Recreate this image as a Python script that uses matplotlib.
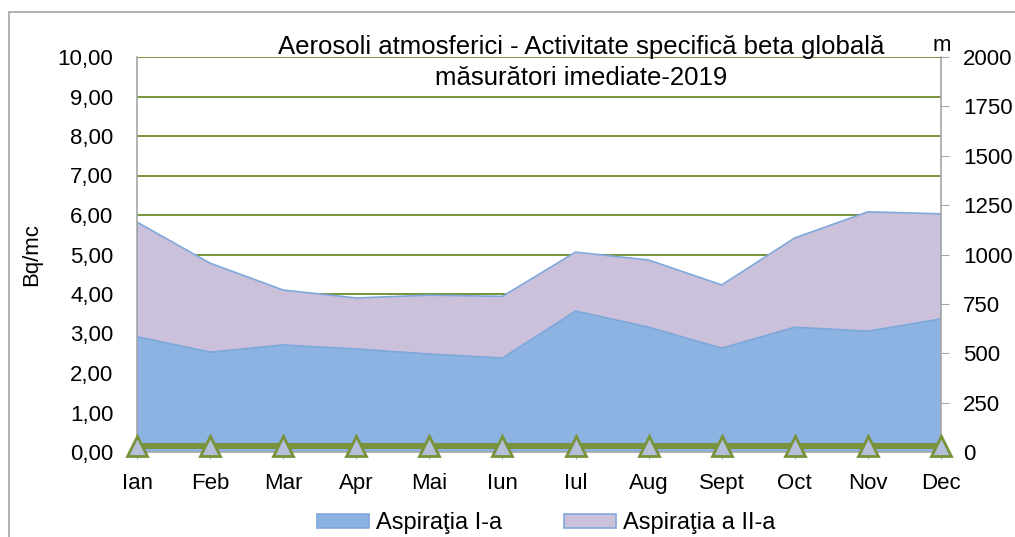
import matplotlib.pyplot as plt
from matplotlib.patches import Rectangle

plt.rcParams['font.family'] = ['Liberation Sans', 'DejaVu Sans']

months = ['Ian', 'Feb', 'Mar', 'Apr', 'Mai', 'Iun', 'Iul', 'Aug', 'Sept', 'Oct', 'Nov', 'Dec']
# Bq/mc, stacked areas
aspiratia_1 = [2.92, 2.53, 2.71, 2.61, 2.48, 2.38, 3.57, 3.16, 2.63, 3.16, 3.06, 3.37]
aspiratia_2 = [2.90, 2.25, 1.39, 1.29, 1.49, 1.56, 1.49, 1.70, 1.60, 2.26, 3.02, 2.66]
# secondary axis (m)
altitude = [30, 30, 30, 30, 30, 30, 30, 30, 30, 30, 30, 30]

left_ticks = [i for i in range(11)]
right_ticks = [0, 250, 500, 750, 1000, 1250, 1500, 1750, 2000]

grid_green = '#77933C'
axis_grey = '#A6A6A6'

fig = plt.figure(figsize=(10.15, 5.37), dpi=100)
ax = fig.add_axes([137 / 1015, 85 / 537, 804 / 1015, 395 / 537])

x = list(range(len(months)))
ax.stackplot(x, aspiratia_1, aspiratia_2,
             colors=['#8DB3E2', '#CCC1DA'],
             edgecolor=['#7FA8DC', '#9DBBE0'], linewidth=1.2,
             labels=['Aspiraţia I-a', 'Aspiraţia a II-a'])

ax.set_xlim(0, 11)
ax.set_ylim(0, 10)
ax.set_xticks(x)
ax.set_xticklabels(months, fontsize=16)
ax.set_yticks(left_ticks)
ax.set_yticklabels([f'{v:.2f}'.replace('.', ',') for v in left_ticks], fontsize=16)
ax.yaxis.grid(True, color=grid_green, linewidth=1.4)
ax.set_axisbelow(True)
ax.tick_params(axis='y', length=0, pad=17)
ax.tick_params(axis='x', length=5, color=axis_grey, pad=10)
ax.spines['top'].set_visible(False)
ax.spines['right'].set_visible(False)
for s in ['left', 'bottom']:
    ax.spines[s].set_color(axis_grey)
    ax.spines[s].set_linewidth(1.2)
ax.set_ylabel('Bq/mc', fontsize=16)
ax.yaxis.set_label_coords(-0.118, 0.5)

ax2 = ax.twinx()
ax2.plot(x, altitude, color=grid_green, linewidth=4.3, marker='^',
         markersize=14, markerfacecolor='#B4BFDA', markeredgecolor=grid_green,
         markeredgewidth=2, clip_on=False, zorder=5)
ax2.set_ylim(0, 2000)
ax2.set_yticks(right_ticks)
ax2.set_yticklabels([str(v) for v in right_ticks], fontsize=16)
ax2.tick_params(axis='y', length=6, color=axis_grey, pad=10)
for s in ['top', 'left', 'bottom']:
    ax2.spines[s].set_visible(False)
ax2.spines['right'].set_color(axis_grey)
ax2.spines['right'].set_linewidth(1.2)
ax2.set_ylabel('m', rotation=0, fontsize=16, va='center', ha='center')
ax2.yaxis.set_label_coords(1.001, 1.028)

fig.text(581 / 1015, 1 - 47 / 537, 'Aerosoli atmosferici - Activitate specifică beta globală',
         ha='center', va='center', fontsize=18.5)
fig.text(581 / 1015, 1 - 78 / 537, 'măsurători imediate-2019',
         ha='center', va='center', fontsize=18.5)

handles, labels = ax.get_legend_handles_labels()
leg = fig.legend(handles, labels, loc='center', bbox_to_anchor=(546 / 1015, 1 - 523 / 537),
                 ncol=2, frameon=False, fontsize=17, handlelength=2.2, handleheight=0.55,
                 handletextpad=0.3, columnspacing=2.6, borderaxespad=0)

fig.patches.append(Rectangle((9 / 1015, -0.1), 1.2, 1 - 12 / 537 + 0.1,
                             transform=fig.transFigure, fill=False,
                             edgecolor=axis_grey, linewidth=1.2))

fig.savefig('out.png', dpi=100)
